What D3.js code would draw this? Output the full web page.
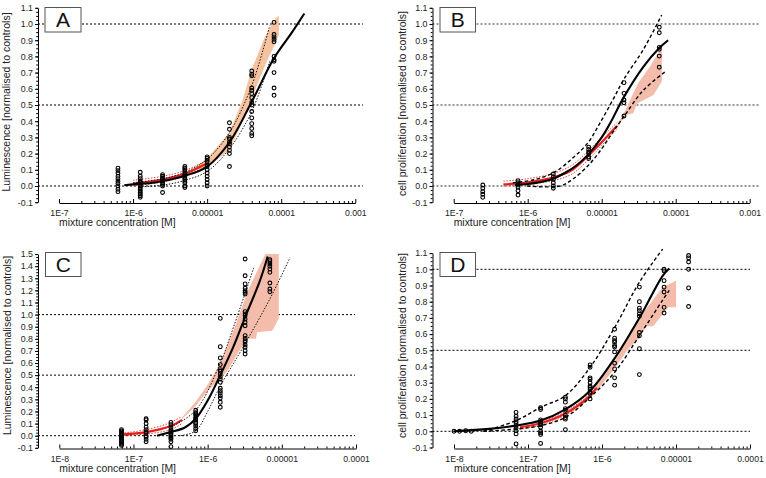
<!DOCTYPE html>
<html><head><meta charset="utf-8">
<script src="https://cdn.jsdelivr.net/npm/d3@7"></script>
<style>
body{margin:0;background:#fff}
svg text{font-family:"Liberation Sans",Arial,sans-serif}
</style>
</head><body>
<svg id="chart" width="766" height="478"></svg>
<script>
// ---------- shared ----------
const refLevels = [0, 0.5, 1.0];
const xLabelsAB = ["1E-7", "1E-6", "0.00001", "0.0001", "0.001"];
const xTicksAB = [1e-7, 1e-6, 1e-5, 1e-4, 1e-3];
const xLabelsCD = ["1E-8", "1E-7", "1E-6", "0.00001", "0.0001"];
const xTicksCD = [1e-8, 1e-7, 1e-6, 1e-5, 1e-4];
const yTicks11 = [-0.1,0,0.1,0.2,0.3,0.4,0.5,0.6,0.7,0.8,0.9,1.0,1.1];
const yTicks15 = [-0.1,0,0.1,0.2,0.3,0.4,0.5,0.6,0.7,0.8,0.9,1.0,1.1,1.2,1.3,1.4,1.5];
const xTitle = "mixture concentration [M]";

// ---------- Panel A ----------
const aConc = [6.25e-7, 1.25e-6, 2.5e-6, 5e-6, 1e-5, 2e-5, 4e-5, 8e-5];
const aObs = [
  [0.11,0.095,0.08,0.06,0.045,0.03,0.015,0.0,-0.02,-0.035],
  [0.085,0.06,0.045,0.03,0.02,0.01,0.0,-0.01,-0.02,-0.03,-0.04,-0.05,-0.06,-0.07],
  [0.07,0.06,0.05,0.04,0.03,0.02,0.01,0.0,-0.04],
  [0.12,0.11,0.10,0.09,0.08,0.07,0.06,0.05,0.04,0.03,0.02,0.0,-0.01],
  [0.18,0.17,0.16,0.15,0.13,0.12,0.10,0.08,0.06,0.04,0.02,0.0],
  [0.39,0.35,0.30,0.29,0.27,0.26,0.24,0.22,0.20,0.12],
  [0.71,0.69,0.68,0.605,0.59,0.57,0.545,0.515,0.50,0.46,0.42,0.385,0.355,0.325,0.31],
  [1.01,0.935,0.92,0.905,0.89,0.80,0.78,0.77,0.70,0.605,0.56]
];
const aFit = [[7.6e-7,0.005],[1e-6,0.01],[2e-6,0.022],[2.85e-6,0.035],[5e-6,0.063],[1e-5,0.12],[2e-5,0.27],[4e-5,0.52],[8e-5,0.79],[1.38e-4,0.945],[2.05e-4,1.065]];
const aUpper = [[1e-6,0.02],[2.5e-6,0.045],[5e-6,0.085],[1e-5,0.165],[2e-5,0.33],[4e-5,0.62],[7e-5,0.99]];
const aLower = [[1.2e-6,-0.005],[2.5e-6,0.005],[5e-6,0.035],[1e-5,0.09],[2e-5,0.23],[4e-5,0.46],[7e-5,0.77]];
const aRed = [[1e-6,0.015],[2.5e-6,0.04],[5e-6,0.075],[1e-5,0.14]];
const aRedUp = [[1e-6,0.035],[2.5e-6,0.06],[5e-6,0.095],[1e-5,0.16]];
const aRedLo = [[1e-6,0.0],[2.5e-6,0.025],[5e-6,0.06],[1e-5,0.125]];
const aBand = [[6.3e-6,0.10],[1e-5,0.17],[2e-5,0.33],[3e-5,0.53],[4e-5,0.72],[6e-5,0.92],[8.5e-5,1.04],[9.3e-5,1.05],
               [9.3e-5,0.93],[8.5e-5,0.89],[6e-5,0.74],[4e-5,0.54],[3e-5,0.40],[2e-5,0.22],[1e-5,0.12],[6.3e-6,0.09]];

// ---------- Panel B ----------
const bConc = [2.47e-7, 7.4e-7, 2.22e-6, 6.67e-6, 2e-5, 6e-5];
const bObs = [
  [0.006,-0.014,-0.035,-0.051,-0.07],
  [0.033,0.02,0.006,-0.008,-0.029,-0.056],
  [0.074,0.057,0.041,0.02,0.0,-0.014],
  [0.24,0.225,0.21,0.2,0.18,0.17],
  [0.638,0.572,0.531,0.514,0.432],
  [0.98,0.946,0.856,0.844,0.802,0.733]
];
const bFit = [[6.7e-7,0.005],[1e-6,0.012],[1.5e-6,0.025],[2.22e-6,0.045],[3.3e-6,0.085],[4.5e-6,0.125],[6.6e-6,0.195],[1e-5,0.3],[1.3e-5,0.387],[2e-5,0.55],[3.65e-5,0.736],[6e-5,0.852],[7.9e-5,0.9]];
const bUpper = [[6.3e-7,0.02],[1.26e-6,0.04],[2.3e-6,0.085],[4e-6,0.17],[6.6e-6,0.27],[9.5e-6,0.39],[1.41e-5,0.53],[2e-5,0.66],[3.63e-5,0.84],[6.46e-5,1.055]];
const bLower = [[9.8e-7,0.0],[2.75e-6,0.0],[4e-6,0.04],[6.67e-6,0.13],[1e-5,0.23],[1.4e-5,0.33],[2.06e-5,0.438],[3.63e-5,0.59],[7.2e-5,0.705]];
const bRed = [[4.7e-7,0.01],[1e-6,0.022],[2.3e-6,0.055],[4e-6,0.10],[6.67e-6,0.19],[1e-5,0.27],[1.6e-5,0.37]];
const bRedUp = [[4.7e-7,0.03],[1e-6,0.045],[2.3e-6,0.08],[4e-6,0.13],[6.67e-6,0.22],[1e-5,0.3],[1.6e-5,0.39]];
const bRedLo = [[4.7e-7,0.0],[1e-6,0.01],[2.3e-6,0.035],[4e-6,0.075],[6.67e-6,0.165],[1e-5,0.25],[1.6e-5,0.35]];
const bBand = [[1.6e-5,0.37],[2e-5,0.45],[3.1e-5,0.634],[4.5e-5,0.737],[6.5e-5,0.86],
               [6.5e-5,0.645],[5e-5,0.562],[4.5e-5,0.551],[3e-5,0.51],[2.67e-5,0.449],[2.07e-5,0.438],[1.6e-5,0.35]];

// ---------- Panel C ----------
const cConc = [6.9e-8, 1.48e-7, 3.2e-7, 6.9e-7, 1.48e-6, 3.2e-6, 6.9e-6];
const cObs = [
  [0.05,0.04,0.03,0.02,0.01,0.0,-0.01,-0.02,-0.03,-0.04,-0.05,-0.06,-0.07,-0.08],
  [0.14,0.13,0.10,0.07,0.05,0.03,0.02,0.0,-0.01,-0.03,-0.05],
  [0.11,0.09,0.07,0.05,0.04,0.03,0.02,0.01,0.0,-0.01,-0.02,-0.03,-0.05,-0.09],
  [0.21,0.19,0.18,0.17,0.15,0.14,0.13,0.11,0.10,0.08,0.06,0.04],
  [0.969,0.735,0.642,0.587,0.546,0.532,0.51,0.487,0.468,0.441,0.392,0.372,0.353,0.33,0.311,0.276,0.235],
  [1.459,1.321,1.253,1.217,1.197,1.184,1.17,1.024,1.005,0.991,0.964,0.937,0.908,0.826,0.804,0.784,0.771,0.749,0.73,0.702,0.675],
  [1.453,1.437,1.418,1.399,1.376,1.349,1.261,1.211,1.189]
];
const cFit = [[2.07e-7,0.0],[3.2e-7,0.03],[5e-7,0.07],[6.9e-7,0.14],[1e-6,0.29],[1.48e-6,0.50],[2.24e-6,0.74],[3.2e-6,0.98],[5e-6,1.27],[6.45e-6,1.48]];
const cUpper = [[3.2e-7,0.07],[6.9e-7,0.21],[1.48e-6,0.6],[2.24e-6,0.9],[4.2e-6,1.39]];
const cLower = [[4.3e-7,0.0],[6.9e-7,0.04],[1e-6,0.2],[1.48e-6,0.41],[3.2e-6,0.76],[6.9e-6,1.13],[1.29e-5,1.47]];
const cRed = [[6.9e-8,0.01],[1.48e-7,0.03],[3.2e-7,0.08],[4.5e-7,0.13]];
const cRedUp = [[6.9e-8,0.02],[1.48e-7,0.05],[3.2e-7,0.11],[4.5e-7,0.16]];
const cRedLo = [[6.9e-8,0.0],[1.48e-7,0.015],[3.2e-7,0.05],[4.5e-7,0.10]];
const cBand = [[4.5e-7,0.15],[6.9e-7,0.28],[1e-6,0.42],[1.48e-6,0.60],[2.26e-6,0.88],[3.5e-6,1.2],[6e-6,1.5],[9.1e-6,1.5],
               [9.1e-6,0.97],[7.8e-6,0.89],[7.4e-6,0.867],[4.65e-6,0.854],[4.47e-6,0.80],[3.47e-6,0.80],[2.77e-6,0.716],[1.83e-6,0.53],[1.48e-6,0.47],[1e-6,0.37],[6.9e-7,0.245],[4.5e-7,0.135]];

// ---------- Panel D ----------
const dConc = [1e-8, 1.19e-8, 1.44e-8, 1.71e-8, 6.9e-8, 1.48e-7, 3.2e-7, 6.9e-7, 1.48e-6, 3.2e-6, 6.9e-6, 1.48e-5];
const dObs = [
  [0.0],[0.0],[0.003],[0.0],
  [0.117,0.093,0.076,0.06,0.049,0.035,0.019,0.004,-0.016,-0.078],
  [0.145,0.135,0.07,0.06,0.05,0.04,0.025,0.0,-0.01,-0.02,-0.075],
  [0.21,0.20,0.18,0.14,0.13,0.10,0.085,0.075,0.01],
  [0.41,0.395,0.33,0.32,0.30,0.28,0.27,0.26,0.245,0.235,0.20],
  [0.63,0.575,0.56,0.55,0.53,0.52,0.49,0.42,0.385,0.33,0.285],
  [0.89,0.80,0.76,0.745,0.725,0.71,0.61,0.59,0.51,0.35],
  [1.0,0.99,0.93,0.89,0.86,0.765,0.73],
  [1.085,1.07,1.045,1.0,0.885,0.77]
];
const dFit = [[1e-8,0.0],[3e-8,0.015],[6.9e-8,0.035],[1.48e-7,0.066],[3.2e-7,0.135],[6.9e-7,0.25],[1.48e-6,0.45],[3.2e-6,0.70],[6.6e-6,0.96],[8.1e-6,1.005]];
const dUpper = [[2.5e-8,0.0],[6.9e-8,0.066],[1.48e-7,0.148],[3.2e-7,0.22],[6.9e-7,0.395],[1.48e-6,0.64],[3.2e-6,0.92],[6.6e-6,1.125]];
const dLower = [[2.5e-8,0.0],[6.9e-8,0.014],[1.48e-7,0.035],[3.2e-7,0.086],[6.9e-7,0.21],[1.48e-6,0.364],[3.2e-6,0.59],[6.6e-6,0.81],[8.1e-6,0.87]];
const dRed = [[7.8e-8,0.025],[1.48e-7,0.05],[3.2e-7,0.11],[6.9e-7,0.22],[8.5e-7,0.27]];
const dRedUp = [[7.8e-8,0.037],[1.48e-7,0.062],[3.2e-7,0.122],[6.9e-7,0.232],[8.5e-7,0.282]];
const dRedLo = [[7.8e-8,0.013],[1.48e-7,0.038],[3.2e-7,0.098],[6.9e-7,0.208],[8.5e-7,0.258]];
const dBand = [[8.5e-7,0.29],[1.46e-6,0.426],[3.09e-6,0.693],[6.6e-6,0.889],[1e-5,0.93],
               [1e-5,0.765],[7.85e-6,0.765],[4.92e-6,0.648],[4e-6,0.648],[3.09e-6,0.57],[2.26e-6,0.508],[1.46e-6,0.385],[1.04e-6,0.30],[8.5e-7,0.25]];

// ---------- panel layout ----------
const panels = [
  {letter:"A", ylabel:"Luminescence [normalised to controls]", conc:aConc, obs:aObs, fit:aFit, up:aUpper, lo:aLower,
   red:aRed, redUp:aRedUp, redLo:aRedLo, band:aBand, bandColor:"#f6c3a0", ciStyle:"dot",
   xTicks:xTicksAB, xLabels:xLabelsAB, xr:[59,355.3], axisX:38, refEnd:363, y0:186, unit:162, yTicks:yTicks11,
   refColor:"#000", refW:1, box:[45,7.5,36,24.5], yLab:[10,102], xTitleY:226, xAxisY:203},
  {letter:"B", ylabel:"cell proliferation [normalised to controls]", conc:bConc, obs:bObs, fit:bFit, up:bUpper, lo:bLower,
   red:bRed, redUp:bRedUp, redLo:bRedLo, band:bBand, bandColor:"#f4bdab", ciStyle:"dash",
   xTicks:xTicksAB, xLabels:xLabelsAB, xr:[453.7,749.7], axisX:432.5, refEnd:759, y0:186, unit:162, yTicks:yTicks11,
   refColor:"#777", refW:1.4, box:[440,7.5,35.5,24.5], yLab:[406,103.5], xTitleY:226, xAxisY:203},
  {letter:"C", ylabel:"Luminescence [normalised to controls]", conc:cConc, obs:cObs, fit:cFit, up:cUpper, lo:cLower,
   red:cRed, redUp:cRedUp, redLo:cRedLo, band:cBand, bandColor:"#f4bdab", ciStyle:"dot",
   xTicks:xTicksCD, xLabels:xLabelsCD, xr:[59.3,356], axisX:38, refEnd:355, y0:435.7, unit:121.1, yTicks:yTicks15,
   refColor:"#000", refW:1, box:[45.5,252.5,35.5,24], yLab:[10.5,345.5], xTitleY:472, xAxisY:448.5},
  {letter:"D", ylabel:"cell proliferation [normalised to controls]", conc:dConc, obs:dObs, fit:dFit, up:dUpper, lo:dLower,
   red:dRed, redUp:dRedUp, redLo:dRedLo, band:dBand, bandColor:"#f4bdab", ciStyle:"dash",
   xTicks:xTicksCD, xLabels:xLabelsCD, xr:[454,750], axisX:432.5, refEnd:750, y0:431.3, unit:162, yTicks:yTicks11,
   refColor:"#000", refW:1, box:[440,252.5,35.5,24], yLab:[406,345.5], xTitleY:472, xAxisY:448.5}
];

const svg = d3.select("#chart");

panels.forEach(p => {
  const g = svg.append("g");
  const x = d3.scaleLog().domain([p.xTicks[0], p.xTicks[p.xTicks.length-1]]).range(p.xr);
  const yMin = p.yTicks[0], yMax = p.yTicks[p.yTicks.length-1];
  const y = d3.scaleLinear().domain([yMin, yMax]).range([p.y0 - yMin*p.unit, p.y0 - yMax*p.unit]);
  const line = d3.line().x(d => x(d[0])).y(d => y(d[1])).curve(d3.curveCatmullRom.alpha(0.5));

  // reference lines
  g.selectAll("line.ref").data(refLevels).join("line").attr("class","ref")
    .attr("x1", p.axisX).attr("x2", p.refEnd)
    .attr("y1", d => y(d)).attr("y2", d => y(d))
    .attr("stroke", p.refColor).attr("stroke-width", p.refW).attr("stroke-dasharray", "2,2");

  // prediction band
  g.append("path")
    .attr("d", d3.line().x(d => x(d[0])).y(d => y(d[1]))(p.band) + "Z")
    .attr("fill", p.bandColor).attr("stroke", "none");

  // red prediction line and its limits
  [p.redUp, p.redLo].forEach(s => g.append("path").attr("d", line(s))
    .attr("fill","none").attr("stroke","#e8302a").attr("stroke-width",0.9).attr("stroke-dasharray","1.5,1.5"));
  g.append("path").attr("d", line(p.red)).attr("fill","none").attr("stroke","#e3201b").attr("stroke-width",2.2);

  // fitted confidence limits
  [p.up, p.lo].forEach(s => g.append("path").attr("d", line(s)).attr("fill","none").attr("stroke","#000")
    .attr("stroke-width", p.ciStyle === "dot" ? 0.9 : 1.4)
    .attr("stroke-dasharray", p.ciStyle === "dot" ? "1.5,1.5" : "3.5,2.5"));

  // fitted curve
  g.append("path").attr("d", line(p.fit)).attr("fill","none").attr("stroke","#000").attr("stroke-width",2.1);

  // observations
  const pts = [];
  p.conc.forEach((c, i) => p.obs[i].forEach(v => pts.push([c, v])));
  g.selectAll("circle").data(pts).join("circle")
    .attr("cx", d => x(d[0])).attr("cy", d => y(d[1])).attr("r", 1.9)
    .attr("fill", "none").attr("stroke", "#000").attr("stroke-width", 1.1);

  // label box
  g.append("rect").attr("x", p.box[0]).attr("y", p.box[1]).attr("width", p.box[2]).attr("height", p.box[3])
    .attr("fill","#fff").attr("stroke","#555").attr("stroke-width",1);
  g.append("text").attr("x", p.box[0] + p.box[2]/2).attr("y", p.box[1] + p.box[3]/2 + 7.6)
    .attr("text-anchor","middle").attr("font-size",21).attr("fill","#111").text(p.letter);

  // y axis
  const yMinor = d3.range(Math.round(yMin*40), Math.round(yMax*40)+1).map(k => k/40);
  const ya = g.append("g").attr("transform", `translate(${p.axisX},0)`)
    .call(d3.axisLeft(y).tickValues(p.yTicks).tickFormat(d => d.toFixed(1)).tickSize(3).tickSizeOuter(0).tickPadding(2));
  ya.selectAll("text").attr("font-size", 8.8).attr("fill", "#222").style("font-family", '"Liberation Sans",Arial,sans-serif');
  g.append("g").attr("transform", `translate(${p.axisX},0)`)
    .call(d3.axisLeft(y).tickValues(yMinor).tickFormat("").tickSize(1.8).tickSizeOuter(0))
    .select(".domain").remove();

  // x axis (ticks inward)
  const xa = g.append("g").attr("transform", `translate(0,${p.xAxisY})`)
    .call(d3.axisBottom(x).tickValues(p.xTicks).tickFormat((d, i) => p.xLabels[i]).tickSize(-4).tickSizeOuter(0).tickPadding(7));
  xa.selectAll("text").attr("font-size", 8.7).attr("fill", "#222").style("font-family", '"Liberation Sans",Arial,sans-serif');
  const xMinor = [];
  p.xTicks.slice(0, -1).forEach(t => { for (let k = 2; k <= 9; k++) xMinor.push(t * k); });
  g.append("g").attr("transform", `translate(0,${p.xAxisY})`)
    .call(d3.axisBottom(x).tickValues(xMinor).tickFormat("").tickSize(-2).tickSizeOuter(0))
    .select(".domain").remove();

  // titles
  g.append("text").attr("x", p.xr[0]).attr("y", p.xTitleY).attr("font-size", 10.4).attr("fill","#222").text(xTitle);
  g.append("text").attr("transform", `translate(${p.yLab[0]},${p.yLab[1]}) rotate(-90)`)
    .attr("text-anchor","middle").attr("font-size", 10.5).attr("fill","#222").text(p.ylabel);
});
</script>
</body></html>
